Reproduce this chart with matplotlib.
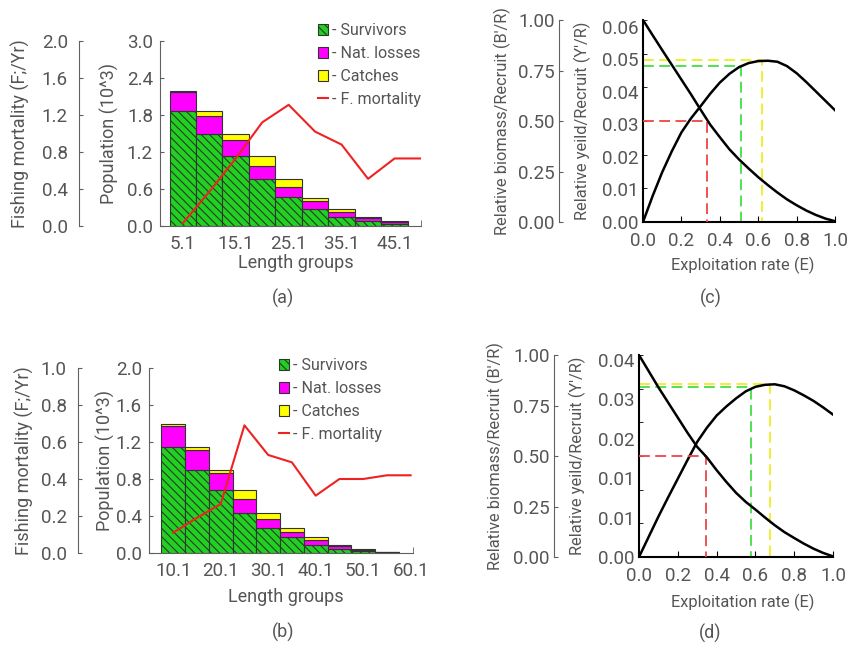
import matplotlib
matplotlib.use("Agg")
import matplotlib.pyplot as plt
from matplotlib.patches import Patch
from matplotlib.lines import Line2D

plt.rcParams['font.family'] = ['Roboto', 'DejaVu Sans']
plt.rcParams['hatch.linewidth'] = 0.8

TEXT = '#555555'
SPINE = '#606060'
GREEN = '#22d022'
MAGENTA = '#ff00ff'
YELLOW = '#ffff00'
RED = '#ee2222'

# (a) length-structured VPA
a_lengths = [5.1, 10.1, 15.1, 20.1, 25.1, 30.1, 35.1, 40.1, 45.1]
a_survivors = [1.86, 1.50, 1.13, 0.77, 0.47, 0.27, 0.14, 0.08, 0.04]
a_nat_losses = [0.31, 0.29, 0.26, 0.21, 0.17, 0.13, 0.09, 0.05, 0.02]
a_catches = [0.02, 0.07, 0.11, 0.15, 0.13, 0.06, 0.05, 0.01, 0.02]
a_f_lengths = [5.1, 10.1, 15.1, 20.1, 25.1, 30.1, 35.1, 40.1, 45.1, 50.1]
a_f_mort = [0.03, 0.37, 0.73, 1.12, 1.31, 1.02, 0.88, 0.51, 0.73, 0.73]
a_xticks = [5.1, 15.1, 25.1, 35.1, 45.1]

# (b) length-structured VPA
b_lengths = [10.1, 15.1, 20.1, 25.1, 30.1, 35.1, 40.1, 45.1, 50.1, 55.1]
b_survivors = [1.15, 0.90, 0.68, 0.43, 0.27, 0.17, 0.09, 0.043, 0.018, 0.006]
b_nat_losses = [0.22, 0.21, 0.18, 0.15, 0.10, 0.06, 0.054, 0.029, 0.018, 0.006]
b_catches = [0.03, 0.04, 0.04, 0.10, 0.06, 0.04, 0.026, 0.018, 0.007, 0.004]
b_f_lengths = [10.1, 15.1, 20.1, 25.1, 30.1, 35.1, 40.1, 45.1, 50.1, 55.1, 60.1]
b_f_mort = [0.11, 0.19, 0.265, 0.69, 0.53, 0.49, 0.31, 0.40, 0.40, 0.42, 0.42]
b_xticks = [10.1, 20.1, 30.1, 40.1, 50.1, 60.1]

# (c), (d) relative yield and biomass per recruit
exploitation = [0.0, 0.05, 0.1, 0.15, 0.2, 0.25, 0.3, 0.35, 0.4, 0.45, 0.5,
                0.55, 0.6, 0.65, 0.7, 0.75, 0.8, 0.85, 0.9, 0.95, 1.0]
c_yield = [0.0, 0.0077, 0.0148, 0.0210, 0.0266, 0.0308, 0.0344, 0.0381, 0.0414, 0.0440, 0.0460,
           0.0472, 0.0478, 0.0479, 0.0476, 0.0463, 0.0442, 0.0416, 0.0388, 0.0360, 0.0332]
c_biomass = [1.0, 0.925, 0.851, 0.778, 0.705, 0.632, 0.556, 0.482, 0.42, 0.36, 0.31,
             0.265, 0.222, 0.183, 0.146, 0.112, 0.083, 0.057, 0.035, 0.017, 0.004]
c_e05, c_e01, c_emax = 0.334, 0.51, 0.621
c_y01, c_ymax = 0.0464, 0.0482

d_yield = [0.0, 0.0040, 0.0080, 0.0118, 0.0155, 0.0192, 0.0228, 0.0256, 0.0280, 0.0298, 0.0314,
           0.0328, 0.0337, 0.0341, 0.0342, 0.0338, 0.0330, 0.0320, 0.0309, 0.0296, 0.0282]
d_biomass = [1.0, 0.92, 0.84, 0.765, 0.69, 0.615, 0.545, 0.493, 0.43, 0.372, 0.318,
             0.273, 0.235, 0.195, 0.157, 0.123, 0.094, 0.066, 0.041, 0.02, 0.003]
d_e05, d_e01, d_emax = 0.344, 0.577, 0.675
d_y01, d_ymax = 0.0336, 0.0342


def left_twin(ax, offset):
    """Extra y axis drawn as a bare spine to the left of ax."""
    ax2 = ax.twinx()
    for side in ['right', 'top', 'bottom']:
        ax2.spines[side].set_visible(False)
    ax2.spines['left'].set_visible(True)
    ax2.spines['left'].set_position(('axes', offset))
    ax2.spines['left'].set_color(SPINE)
    ax2.yaxis.set_ticks_position('left')
    ax2.yaxis.set_label_position('left')
    return ax2


def bar_panel(fig, rect, lengths, surv, nat, catch, f_lengths, f_mort,
              pop_max, f_max, xticks, xlim, f_offset, ycoords, xcoords, leg_pos):
    ax = fig.add_axes(rect)
    bottom2 = [s + n for s, n in zip(surv, nat)]
    ax.bar(lengths, surv, width=5, color=GREEN, edgecolor='#2a3a2a', lw=0.8,
           hatch='\\\\\\\\')
    ax.bar(lengths, nat, width=5, bottom=surv, color=MAGENTA, edgecolor='#333333', lw=0.8)
    ax.bar(lengths, catch, width=5, bottom=bottom2, color=YELLOW, edgecolor='#333333', lw=0.8)
    ax.set_xlim(*xlim)
    ax.set_ylim(0, pop_max)
    ax.set_yticks([pop_max * i / 5 for i in range(6)])
    ax.yaxis.set_major_formatter('{x:.1f}')
    ax.set_xticks(xticks)
    ax.set_xticklabels([f'{t:.1f}' for t in xticks])
    ax.set_xticks([xlim[1]], minor=True)
    ax.tick_params(axis='x', which='major', length=0, pad=6.5)
    ax.tick_params(axis='x', which='minor', direction='in', length=4, color=SPINE)
    ax.tick_params(axis='y', direction='in', length=3, pad=5, color=SPINE)
    ax.tick_params(labelsize=13.5, labelcolor=TEXT)
    for side in ['top', 'right']:
        ax.spines[side].set_visible(False)
    for side in ['left', 'bottom']:
        ax.spines[side].set_color(SPINE)
    ax.set_ylabel('Population (10^3)', fontsize=13, color=TEXT)
    ax.yaxis.set_label_coords(ycoords[1], 0.5)
    ax.set_xlabel('Length groups', fontsize=13, color=TEXT)
    ax.xaxis.set_label_coords(*xcoords)

    ax2 = left_twin(ax, f_offset)
    ax2.plot(f_lengths, f_mort, color=RED, lw=1.5)
    ax2.set_ylim(0, f_max)
    ax2.set_yticks([f_max * i / 5 for i in range(6)])
    ax2.yaxis.set_major_formatter('{x:.1f}')
    ax2.tick_params(axis='y', direction='in', length=3, pad=8, color=SPINE,
                    labelsize=13.5, labelcolor=TEXT)
    ax2.set_ylabel('Fishing mortality (F;/Yr)', fontsize=13, color=TEXT)
    ax2.yaxis.set_label_coords(ycoords[0], 0.5)

    handles = [
        Patch(facecolor=GREEN, edgecolor='#2a3a2a', hatch='\\\\\\\\', lw=0.8),
        Patch(facecolor=MAGENTA, edgecolor='#333333', lw=0.8),
        Patch(facecolor=YELLOW, edgecolor='#333333', lw=0.8),
        Line2D([], [], color=RED, lw=1.5),
    ]
    labels = ['- Survivors', '- Nat. losses', '- Catches', '- F. mortality']
    ax2.legend(handles, labels, loc='upper left', bbox_to_anchor=leg_pos,
               bbox_transform=fig.transFigure, frameon=False, borderpad=0,
               borderaxespad=0, handlelength=0.65, handleheight=0.65,
               handletextpad=0.2, labelspacing=0.5, fontsize=11.5,
               labelcolor=TEXT)
    return ax


def yield_panel(fig, rect, yld, bio, y_max, e05, e01, emax, y01, ymax,
                label_top, ylabels, offset, ycoords, xcoords):
    ax = fig.add_axes(rect)
    ax.plot(exploitation, yld, color='black', lw=1.8, zorder=3)
    ax.set_xlim(0, 1.0)
    ax.set_ylim(0, y_max)
    ax.set_xticks([0.0, 0.2, 0.4, 0.6, 0.8, 1.0])
    ax.xaxis.set_major_formatter('{x:.1f}')
    # labels and tick marks do not line up in the original
    n = len(ylabels)
    ax.set_yticks([label_top * i / (n - 1) for i in range(n)])
    ax.set_yticklabels(ylabels)
    ax.set_yticks([y_max * i / 6 for i in range(7)], minor=True)
    ax.tick_params(axis='y', which='major', length=0, pad=3)
    ax.tick_params(axis='y', which='minor', direction='in', length=3)
    ax.tick_params(axis='x', direction='in', length=4, pad=7)
    ax.tick_params(labelsize=13.5, labelcolor=TEXT)
    for side in ['top', 'right']:
        ax.spines[side].set_visible(False)
    for side in ['left', 'bottom']:
        ax.spines[side].set_linewidth(1.5)
    ax.set_xlabel('Exploitation rate (E)', fontsize=11.8, color=TEXT)
    ax.xaxis.set_label_coords(*xcoords)
    ax.set_ylabel("Relative yeild/Recruit (Y'/R)", fontsize=11.8, color=TEXT)
    ax.yaxis.set_label_coords(ycoords[1], 0.5)

    dash = dict(lw=1.3, ls=(0, (6, 3)))
    ax.plot([0, e01, e01], [y01, y01, 0], color='#44dd44', **dash)
    ax.plot([0, emax, emax], [ymax, ymax, 0], color='#eeee22', **dash)

    ax2 = left_twin(ax, offset)
    ax2.plot(exploitation, bio, color='black', lw=1.8, zorder=3)
    ax2.plot([0, e05, e05], [0.5, 0.5, 0], color='#ee4444', **dash)
    ax2.set_ylim(0, 1.0)
    ax2.set_yticks([0, 0.25, 0.5, 0.75, 1.0])
    ax2.yaxis.set_major_formatter('{x:.2f}')
    ax2.tick_params(axis='y', direction='in', length=3, pad=3, color=SPINE,
                    labelsize=13.5, labelcolor=TEXT)
    ax2.yaxis.get_major_ticks()[2].tick1line.set_color('red')
    ax2.set_ylabel("Relative biomass/Recruit (B'/R)", fontsize=11.8, color=TEXT)
    ax2.yaxis.set_label_coords(ycoords[0], 0.5)
    return ax


fig = plt.figure(figsize=(8.47, 6.48), dpi=100)
W, H = 847, 648

bar_panel(fig, [160 / W, 1 - 226 / H, 261 / W, 185 / H],
          a_lengths, a_survivors, a_nat_losses, a_catches, a_f_lengths, a_f_mort,
          3.0, 2.0, a_xticks, (0.8, 50.1), -0.310,
          (-0.50, -0.157), (0.521, -0.151), (318 / W, 1 - 23 / H))
bar_panel(fig, [149 / W, 1 - 553 / H, 264 / W, 185 / H],
          b_lengths, b_survivors, b_nat_losses, b_catches, b_f_lengths, b_f_mort,
          2.0, 1.0, b_xticks, (5.0, 60.6), -0.269,
          (-0.436, -0.129), (0.519, -0.189), (279 / W, 1 - 358 / H))

yield_panel(fig, [643 / W, 1 - 222 / H, 192 / W, 202 / H], c_yield, c_biomass,
            0.06, c_e05, c_e01, c_emax, c_y01, c_ymax,
            0.058, ['0.00', '0.01', '0.02', '0.03', '0.04', '0.05', '0.06'],
            -0.4375, (-0.6875, -0.271), (0.52, -0.173))
yield_panel(fig, [639 / W, 1 - 557 / H, 194 / W, 202 / H], d_yield, d_biomass,
            0.04, d_e05, d_e01, d_emax, d_y01, d_ymax,
            0.039, ['0.00', '0.01', '0.01', '0.02', '0.03', '0.04'],
            -0.438, (-0.696, -0.273), (0.536, -0.183))

for label, x, y in [('(a)', 283, 298), ('(b)', 283, 632), ('(c)', 711, 298), ('(d)', 710, 633)]:
    fig.text(x / W, 1 - y / H, label, ha='center', va='center', fontsize=13, color=TEXT)

fig.savefig('out.png', dpi=100, facecolor='white')
